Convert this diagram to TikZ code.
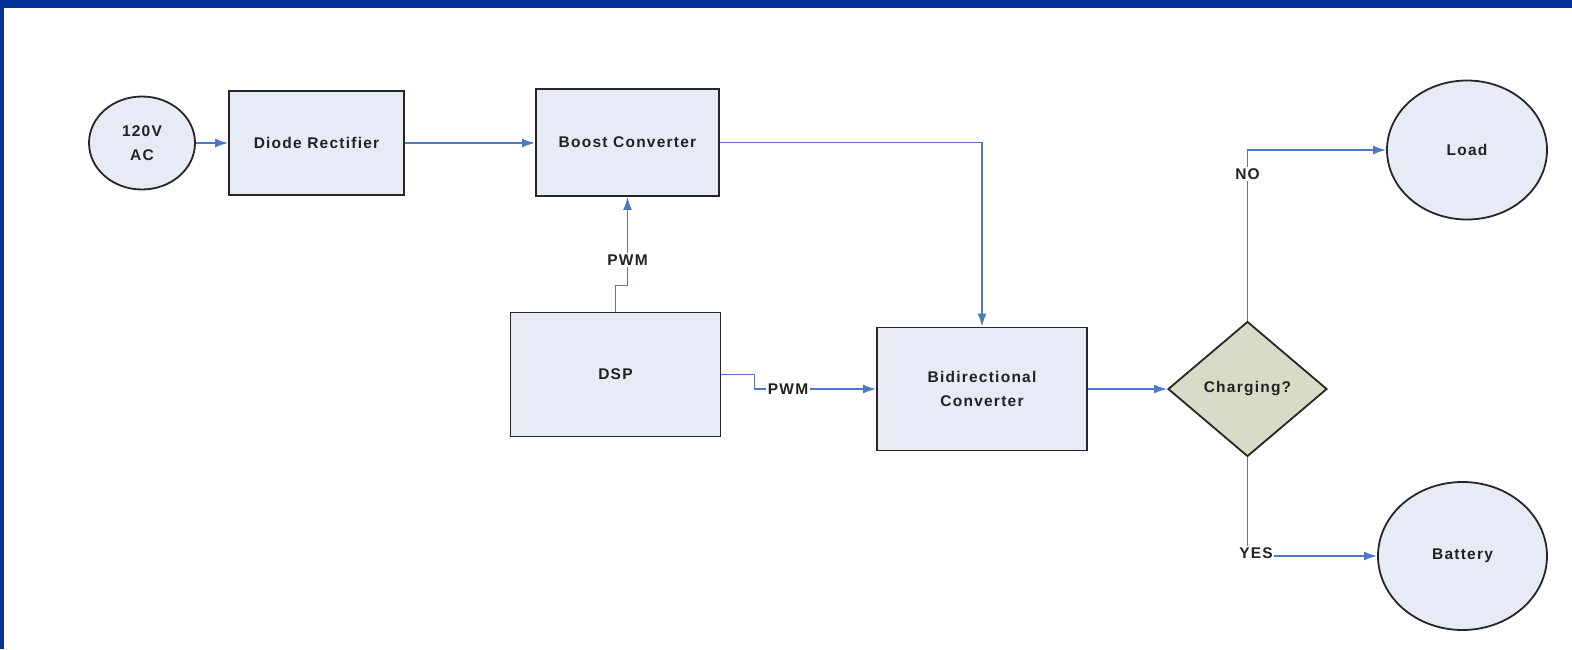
\documentclass[tikz,border=0pt]{standalone}
\usepackage{fontspec}
\setmainfont{Liberation Sans}
\usetikzlibrary{shapes.geometric,arrows.meta}
\definecolor{frameblue}{HTML}{003399}
\definecolor{boxfill}{HTML}{E6EBF6}
\definecolor{dmdfill}{HTML}{D9DBC6}
\definecolor{linkblue}{HTML}{4F78C2}
\definecolor{txt}{HTML}{222222}
\tikzset{
  base/.style={draw=black!85, line width=1.8pt, text=txt, inner sep=0pt,
    font=\fontsize{15.5}{24}\selectfont\bfseries\addfontfeature{LetterSpace=8},
    align=center},
  blockbox/.style={base, rectangle, fill=boxfill},
  roundbox/.style={base, ellipse, fill=boxfill},
  decide/.style={base, diamond, fill=dmdfill},
  link/.style={draw=linkblue, line width=1.7pt, -{Latex[length=13pt,width=9pt]}},
  tag/.style={fill=white, text=txt, inner sep=1.5pt,
    font=\fontsize{15.5}{18}\selectfont\bfseries\addfontfeature{LetterSpace=8}}
}
\begin{document}
\begin{tikzpicture}[x=1pt,y=-1pt]
\useasboundingbox (0,0) rectangle (1572,649);
\fill[white] (0,0) rectangle (1572,649);
\fill[frameblue] (0,0) rectangle (1572,8);
\fill[frameblue] (0,0) rectangle (4,649);

\node[roundbox, minimum width=106pt, minimum height=93pt] (ac) at (142,143) {120V\\AC};
\node[blockbox, minimum width=175pt, minimum height=104pt] (diode) at (316.5,143) {Diode Rectifier};
\node[blockbox, minimum width=183pt, minimum height=107pt] (boost) at (627.5,142.5) {Boost Converter};
\node[blockbox, minimum width=210pt, minimum height=124pt] (dsp) at (615.5,374.5) {DSP};
\node[blockbox, minimum width=210pt, minimum height=123pt] (bidir) at (982,389) {Bidirectional\\Converter};
\node[decide, minimum width=159pt, minimum height=135pt, aspect=1.18] (chg) at (1247.5,389) {Charging?};
\node[roundbox, minimum width=160pt, minimum height=139pt] (load) at (1467,150) {Load};
\node[roundbox, minimum width=169pt, minimum height=148pt] (batt) at (1462.5,556) {Battery};

\draw[link] (ac.east) -- (ac.east -| diode.west);
\draw[link] (diode.east) -- (diode.east -| boost.west);
\draw[link] (boost.east) -| (bidir.north);
\draw[link] (dsp.north) -- ++(0,-26) -| (boost.south);
\draw[link] (dsp.east) -- ++(33,0) |- (bidir.west);
\draw[link] (bidir.east) -- (bidir.east -| chg.west);
\draw[link] (chg.north) |- (load.west);
\draw[link] (chg.south) |- (batt.west);

\node[tag] (pwma) at (627.5,260) {PWM};
\node[tag] (pwmb) at (788,389) {PWM};
\node[tag] (no) at (1247.5,174) {NO};
\node[tag] (yes) at (1256,553) {YES};
\end{tikzpicture}
\end{document}
